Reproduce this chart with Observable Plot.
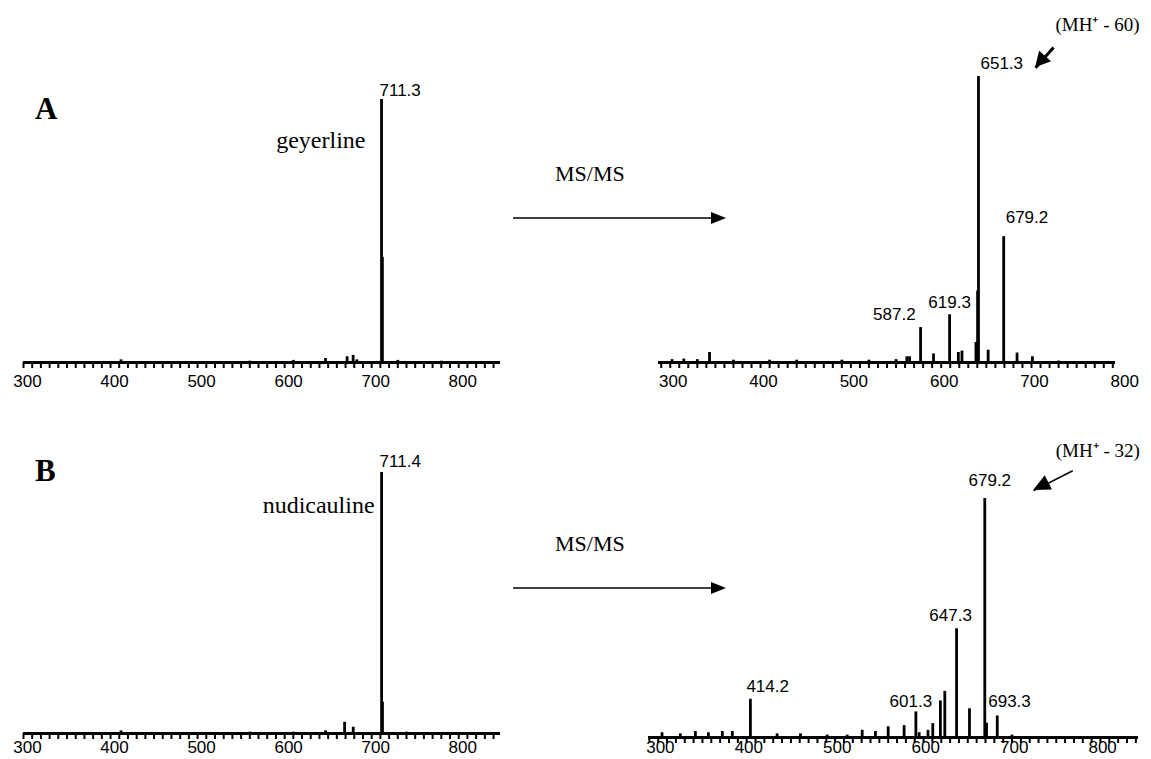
<!DOCTYPE html>
<html>
<head>
<meta charset="utf-8">
<script src="https://cdn.jsdelivr.net/npm/d3@7"></script>
<script src="https://cdn.jsdelivr.net/npm/@observablehq/plot@0.6"></script>
<style>
  html, body { margin: 0; padding: 0; background: #fff; }
  #fig { position: relative; width: 1151px; height: 759px; overflow: hidden; background: #fff; }
  .panel { position: absolute; }
  .panel svg { display: block; overflow: visible; }
  .lbl { position: absolute; font-family: "Liberation Serif", "Times New Roman", serif; color: #000; white-space: nowrap; line-height: 1; }
  #deco { position: absolute; left: 0; top: 0; }
</style>
</head>
<body>
<div id="fig"></div>
<script>
// ---------------- DATA ----------------
const tickValues = [300, 400, 500, 600, 700, 800];
const panelTitles = ["A", "B"];
const compoundNames = ["geyerline", "nudicauline"];
const transitionText = "MS/MS";

// A: MS of geyerline
const mzA1  = [412, 560, 610, 647, 671.8, 678.7, 683, 711.3, 712.3, 730, 780];
const intA1 = [1, 0.5, 0.8, 1.5, 2.2, 2.7, 1, 100, 40, 0.8, 0.5];
const labelsA1 = ["711.3"];

// A: MS/MS of geyerline
const mzA2  = [312, 325, 340, 353.5, 380, 420, 450, 500, 530, 560, 572, 575, 587.2, 601.5, 619.3, 629, 633, 648.5, 650.3, 651.3, 662, 679.2, 694, 711, 740];
const intA2 = [1, 1.2, 1, 3.5, 0.8, 0.8, 0.8, 0.8, 0.8, 1, 2, 2, 12.2, 3, 16.7, 3.5, 4, 7, 25, 100, 4.3, 44, 3.3, 2, 0.5];
const labelsA2 = ["587.2", "619.3", "651.3", "679.2"];
const lossA = "(MH\u207A - 60)";

// B: MS of nudicauline
const mzB1  = [412, 560, 610, 647, 668.9, 678.8, 711.4, 712.4, 740];
const intB1 = [1, 0.5, 0.5, 1, 4.3, 2.4, 100, 12, 0.5];
const labelsB1 = ["711.4"];

// B: MS/MS of nudicauline
const mzB2  = [314.3, 335, 352, 366.7, 382.5, 393.8, 414.2, 444.4, 470.8, 501, 523.6, 540.6, 555.6, 570, 588, 601.3, 605, 615, 620.4, 629, 634, 647.3, 661.9, 679.2, 681.2, 693.3, 710];
const intB2 = [2, 1.5, 2.5, 2, 2.5, 2.5, 16, 1.5, 1.5, 1, 1, 3, 2.5, 4.5, 5, 10.7, 2, 3, 5.8, 15.3, 19.3, 45.5, 12, 100, 6, 9, 1];
const labelsB2 = ["414.2", "601.3", "647.3", "679.2", "693.3"];
const lossB = "(MH\u207A - 32)";

// ---------------- STYLE / LAYOUT (not data) ----------------
const sans = "'Liberation Sans', Arial, Helvetica, sans-serif";
const serif = "'Liberation Serif', 'Times New Roman', serif";

const fig = document.getElementById("fig");

function spectrum(cfg) {
  const peaks = cfg.mz.map((m, k) => ({mz: m, i: cfg.inten[k]}));
  const minor = d3.range(300, cfg.domain[1] + 0.01, 10);
  const marks = [
    Plot.ruleX(peaks, {x: "mz", y1: 0, y2: "i", stroke: "#000", strokeWidth: 2.8}),
    Plot.ruleY([0], {stroke: "#000", strokeWidth: 3.2}),
    Plot.axisX({ticks: minor, tickSize: 6, tickFormat: () => "", strokeWidth: 2, label: null}),
    Plot.axisX({ticks: tickValues, tickSize: 0, tickPadding: cfg.tickPad, dx: cfg.tickDx, tickFormat: d3.format("d"), label: null})
  ];
  for (const t of cfg.labels) {
    const v = +t;
    const p = peaks.reduce((a, b) => Math.abs(b.mz - v) < Math.abs(a.mz - v) ? b : a);
    const s = cfg.labelStyle[t] || {};
    marks.push(Plot.text([p], {
      x: "mz", y: "i", text: () => t,
      textAnchor: s.anchor || "start", dx: s.dx || 0, dy: s.dy || -12,
      lineAnchor: "middle", fontSize: 17, fill: "#000"
    }));
  }
  if (cfg.name) {
    const top = peaks.reduce((a, b) => b.i > a.i ? b : a);
    marks.push(Plot.text([top], {
      x: "mz", y: "i", text: () => cfg.name,
      textAnchor: "end", lineAnchor: "middle", dx: cfg.nameDx, dy: cfg.nameDy,
      fontFamily: serif, fontSize: 24, fill: "#000"
    }));
  }
  if (cfg.annot) {
    const a = cfg.annot;
    marks.push(Plot.text([a], {
      x: "tx", y: "ty", text: () => a.text, textAnchor: "start", lineAnchor: "middle",
      fontFamily: serif, fontSize: 19, fill: "#000"
    }));
    marks.push(Plot.link([a], {x1: "x1", y1: "y1", x2: "x2", y2: "y2", stroke: "#000", strokeWidth: a.sw}));
  }
  const chart = Plot.plot({
    width: cfg.width, height: cfg.height,
    marginLeft: cfg.ml, marginRight: cfg.mr, marginTop: cfg.mt, marginBottom: cfg.mb,
    x: {domain: cfg.domain, axis: null},
    y: {domain: [0, 100], axis: null},
    style: {fontFamily: sans, fontSize: "17px", color: "#000", background: "transparent", overflow: "visible"},
    marks
  });
  if (cfg.annot) {
    const a = cfg.annot;
    const X = chart.scale("x"), Y = chart.scale("y");
    const x1 = X.apply(a.x1), y1 = Y.apply(a.y1), x2 = X.apply(a.x2), y2 = Y.apply(a.y2);
    const ang = Math.atan2(y2 - y1, x2 - x1);
    const L = a.headL, W = a.headW;
    const bx = x2 - L * Math.cos(ang), by = y2 - L * Math.sin(ang);
    const pts = [[x2, y2], [bx + W * Math.sin(ang), by - W * Math.cos(ang)], [bx - W * Math.sin(ang), by + W * Math.cos(ang)]];
    d3.select(chart).append("path").attr("d", "M" + pts.map(p => p.join(",")).join("L") + "Z").attr("fill", "#000");
  }
  const wrap = document.createElement("div");
  wrap.className = "panel";
  wrap.style.left = cfg.left + "px";
  wrap.style.top = cfg.top + "px";
  wrap.appendChild(chart);
  fig.appendChild(wrap);
  return chart;
}

// A left
spectrum({
  mz: mzA1, inten: intA1, labels: labelsA1,
  labelStyle: {"711.3": {anchor: "start", dx: -2, dy: -9}},
  domain: [300, 848], left: 0, top: 40, width: 520, height: 360,
  ml: 23, mr: 20, mt: 59, mb: 38, tickPad: 12, tickDx: 4,
  name: compoundNames[0], nameDx: -16, nameDy: 41
});
// A right
spectrum({
  mz: mzA2, inten: intA2, labels: labelsA2,
  labelStyle: {
    "587.2": {anchor: "end", dx: -5, dy: -13},
    "619.3": {anchor: "middle", dx: 0, dy: -12},
    "651.3": {anchor: "start", dx: 2, dy: -13},
    "679.2": {anchor: "start", dx: 2, dy: -19}
  },
  domain: [297, 803], left: 640, top: 0, width: 511, height: 400,
  ml: 18, mr: 36, mt: 76, mb: 38, tickPad: 12, tickDx: 12,
  annot: {text: lossA, tx: 736.6, ty: 118.2, x1: 734.4, y1: 110.1, x2: 714.5, y2: 103.1, sw: 3, headL: 15, headW: 8}
});
// B left
spectrum({
  mz: mzB1, inten: intB1, labels: labelsB1,
  labelStyle: {"711.4": {anchor: "start", dx: -2, dy: -11}},
  domain: [300, 848], left: 0, top: 400, width: 520, height: 359,
  ml: 23, mr: 20, mt: 72, mb: 26, tickPad: 7, tickDx: 4,
  name: compoundNames[1], nameDx: -7, nameDy: 33
});
// B right
spectrum({
  mz: mzB2, inten: intB2, labels: labelsB2,
  labelStyle: {
    "414.2": {anchor: "start", dx: -4, dy: -13},
    "601.3": {anchor: "middle", dx: -5, dy: -10},
    "647.3": {anchor: "middle", dx: -6, dy: -13},
    "679.2": {anchor: "middle", dx: 5, dy: -18},
    "693.3": {anchor: "start", dx: -9, dy: -14}
  },
  domain: [299, 853], left: 640, top: 400, width: 511, height: 359,
  ml: 8, mr: 13, mt: 98, mb: 22, tickPad: 3, tickDx: 11,
  annot: {text: lossB, tx: 759.4, ty: 119.9, x1: 778.6, y1: 111.6, x2: 734.5, y2: 103.3, sw: 1.6, headL: 17, headW: 8}
});

// ---------------- decorations: panel letters, MS/MS arrows ----------------
function addLabel(text, x, y, size, bold) {
  const d = document.createElement("div");
  d.className = "lbl";
  d.textContent = text;
  d.style.left = x + "px";
  d.style.top = y + "px";
  d.style.fontSize = size + "px";
  d.style.fontWeight = bold ? "bold" : "normal";
  fig.appendChild(d);
}
addLabel(panelTitles[0], 35, 93, 31, true);
addLabel(panelTitles[1], 35, 455, 31, true);
addLabel(transitionText, 555, 163, 22, false);
addLabel(transitionText, 555, 533, 22, false);

const deco = d3.select(fig).append("svg").attr("id", "deco").attr("width", 1151).attr("height", 759);
for (const yy of [218, 588]) {
  deco.append("line").attr("x1", 513).attr("x2", 713).attr("y1", yy).attr("y2", yy).attr("stroke", "#000").attr("stroke-width", 1.5);
  deco.append("path").attr("d", `M726,${yy}L711,${yy - 6}L711,${yy + 6}Z`).attr("fill", "#000");
}
</script>
</body>
</html>
